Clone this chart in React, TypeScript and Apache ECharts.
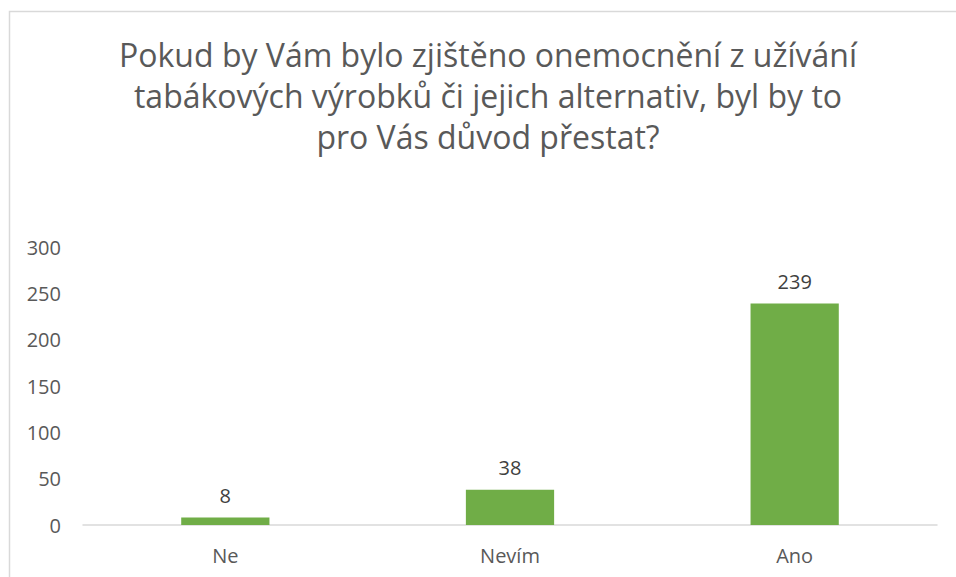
import React, { useEffect, useRef } from "react";
import * as echarts from "echarts";

const titleLines = [
  "Pokud by Vám bylo zjištěno onemocnění z užívání",
  "tabákových výrobků či jejich alternativ, byl by to",
  "pro Vás důvod přestat?",
];
const categories = ["Ne", "Nevím", "Ano"];
const values = [8, 38, 239];
const yTicks = { min: 0, max: 300, interval: 50 };

const FONT = "Open Sans";
const TEXT = "#595959";

export default function App() {
  const ref = useRef<HTMLDivElement>(null);
  useEffect(() => {
    document.body.style.margin = "0";
    const chart = echarts.init(ref.current!, null, { renderer: "svg" });
    chart.setOption({
      animation: false,
      backgroundColor: "#ffffff",
      textStyle: { fontFamily: FONT },
      graphic: [
        {
          type: "rect",
          shape: { x: 9.5, y: 11.5, width: 1200, height: 1200 },
          style: { fill: "none", stroke: "#d9d9d9", lineWidth: 1.5 },
          silent: true,
        },
        {
          type: "text",
          x: 488,
          y: 34,
          style: {
            text: titleLines.join("\n"),
            fill: TEXT,
            font: `32px "${FONT}"`,
            align: "center",
            verticalAlign: "top",
            lineHeight: 41,
          },
        },
      ],
      grid: { left: 83, right: 19, top: 247, bottom: 52 },
      xAxis: {
        type: "category",
        data: categories,
        axisLine: { lineStyle: { color: "#d9d9d9", width: 1.5 } },
        axisTick: { show: false },
        axisLabel: { color: TEXT, fontSize: 20, margin: 20, fontFamily: FONT },
      },
      yAxis: {
        type: "value",
        min: yTicks.min,
        max: yTicks.max,
        interval: yTicks.interval,
        splitLine: { show: false },
        axisLine: { show: false },
        axisTick: { show: false },
        axisLabel: { color: TEXT, fontSize: 20, margin: 22, fontFamily: FONT },
      },
      series: [
        {
          type: "bar",
          data: values,
          barCategoryGap: "69%",
          itemStyle: { color: "#70ad47" },
          label: {
            show: true,
            position: "top",
            distance: 12,
            color: "#404040",
            fontSize: 20,
            fontFamily: FONT,
          },
        },
      ],
    });
    return () => chart.dispose();
  }, []);
  return <div ref={ref} style={{ width: 956, height: 577, position: "absolute", left: 0, top: 0 }} />;
}
